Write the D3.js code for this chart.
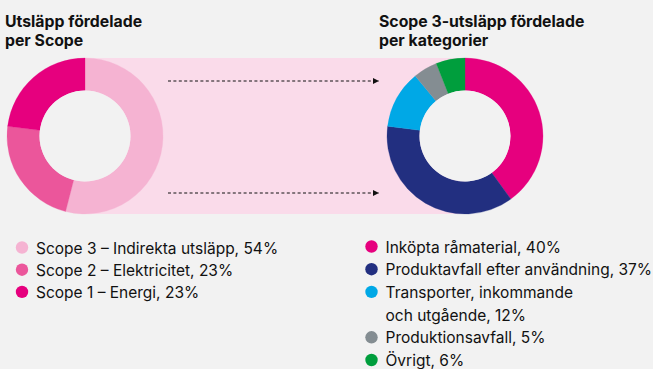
<!DOCTYPE html>
<html>
<head>
<meta charset="utf-8">
<script src="https://cdn.jsdelivr.net/npm/d3@7"></script>
<style>
  html, body { margin: 0; padding: 0; background: #f2f2f2; }
  svg { display: block; font-family: Inter, "Noto Sans", sans-serif; }
</style>
</head>
<body>
<svg id="chart" width="653" height="369"></svg>
<script>
// Emissions split by scope
const scopeLabels = ["Scope 3 – Indirekta utsläpp", "Scope 2 – Elektricitet", "Scope 1 – Energi"];
const scopeValues = [54, 23, 23];
const scopeColors = ["#f5b3d2", "#eb569b", "#e6007e"];

// Scope 3 emissions split by category
const categoryLabels = ["Inköpta råmaterial", "Produktavfall efter användning", "Transporter, inkommande\noch utgående", "Produktionsavfall", "Övrigt"];
const categoryValues = [40, 37, 12, 5, 6];
const categoryColors = ["#e6007e", "#222f80", "#00a8e6", "#848d92", "#009e3d"];

const titles = [["Utsläpp fördelade", "per Scope"], ["Scope 3-utsläpp fördelade", "per kategorier"]];

const svg = d3.select("#chart");
const W = 653, H = 369;

svg.append("rect").attr("width", W).attr("height", H).attr("fill", "#f2f2f2");

const outerR = 78, innerR = 45.5;
const cy = 136;
const leftCx = 85, rightCx = 465;

// connecting band between the two donuts
svg.append("rect")
  .attr("x", leftCx).attr("y", cy - outerR)
  .attr("width", rightCx - leftCx).attr("height", outerR * 2)
  .attr("fill", "#fadbea");

// dotted arrows
const defs = svg.append("defs");
defs.append("marker")
  .attr("id", "arrowhead")
  .attr("viewBox", "0 0 10 10")
  .attr("refX", 10).attr("refY", 5)
  .attr("markerWidth", 6).attr("markerHeight", 6)
  .attr("markerUnits", "userSpaceOnUse")
  .attr("orient", "auto")
  .append("path").attr("d", "M0,0L10,5L0,10Z").attr("fill", "#111");

[cy - 55, cy + 57].forEach(y => {
  svg.append("line")
    .attr("x1", 168).attr("x2", 379)
    .attr("y1", y).attr("y2", y)
    .attr("stroke", "#111").attr("stroke-width", 1)
    .attr("stroke-dasharray", "3,2.4")
    .attr("marker-end", "url(#arrowhead)");
});

const pie = d3.pie().sort(null).value(d => d);
const arc = d3.arc().innerRadius(innerR).outerRadius(outerR);

function donut(cx, values, colors) {
  const g = svg.append("g").attr("transform", `translate(${cx},${cy})`);
  g.selectAll("path")
    .data(pie(values))
    .join("path")
    .attr("d", arc)
    .attr("fill", (d, i) => colors[i])
    .attr("stroke", (d, i) => colors[i])
    .attr("stroke-width", 0.3);
  g.append("circle").attr("r", innerR).attr("fill", "#f2f2f2");
}

donut(leftCx, scopeValues, scopeColors);
donut(rightCx, categoryValues, categoryColors);

// titles
[[5, titles[0]], [379, titles[1]]].forEach(([x, lines]) => {
  const t = svg.append("text")
    .attr("x", x).attr("y", 27)
    .attr("font-size", 15.8).attr("font-weight", 700)
    .attr("fill", "#111");
  lines.forEach((line, i) => {
    t.append("tspan").attr("x", x).attr("dy", i === 0 ? 0 : 18.5).text(line);
  });
});

// legends
function legend(x, y0, step, labels, values, colors) {
  let line = 0;
  labels.forEach((label, i) => {
    const parts = label.split("\n");
    const y = y0 + line * step;
    svg.append("circle")
      .attr("cx", x).attr("cy", y).attr("r", 6.2)
      .attr("fill", colors[i]);
    const t = svg.append("text")
      .attr("x", x + 14).attr("y", y)
      .attr("dominant-baseline", "central")
      .attr("font-size", 15.5).attr("fill", "#111");
    parts.forEach((p, j) => {
      const txt = j === parts.length - 1 ? `${p}, ${values[i]}%` : p;
      t.append("tspan").attr("x", x + 14).attr("dy", j === 0 ? 0 : step).text(txt);
    });
    line += parts.length;
  });
}

legend(22, 247.5, 22.2, scopeLabels, scopeValues, scopeColors);
legend(371.5, 246.5, 22.7, categoryLabels, categoryValues, categoryColors);
</script>
</body>
</html>
